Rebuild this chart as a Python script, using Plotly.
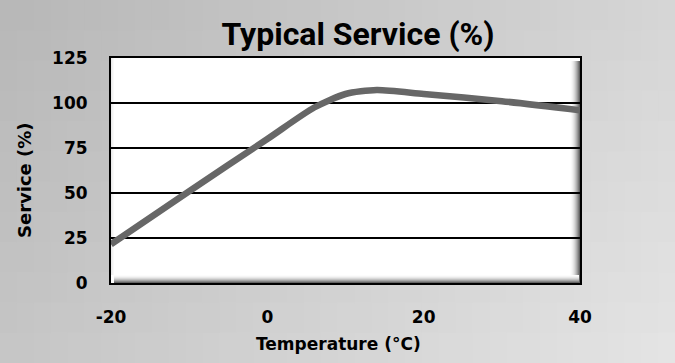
import plotly.graph_objects as go

# Data
temperature = [-20, -10, 0, 6, 10, 14, 20, 30, 40]
service = [21.5, 51, 80, 97.5, 105, 107.2, 105, 101, 96]

x_ticks = [-20, 0, 20, 40]
y_ticks = [0, 25, 50, 75, 100, 125]

W, H = 675, 363
L, R, T, B = 111, 95, 58, 80
pw, ph = W - L - R, H - T - B

fig = go.Figure()
fig.add_trace(go.Scatter(
    x=temperature, y=service, mode="lines",
    line=dict(color="#676767", width=6.5, shape="spline", smoothing=0.7),
    hoverinfo="skip", showlegend=False,
))

shapes = []
# background gradient (paper coords, grid of cells)
nx, ny = 40, 12
for i in range(nx):
    for j in range(ny):
        x0 = (-L + i * W / nx) / pw
        x1 = (-L + (i + 1) * W / nx) / pw + 0.002
        y1 = (ph + T - j * H / ny) / ph
        y0 = (ph + T - (j + 1) * H / ny) / ph - 0.004
        tx = i / (nx - 1)
        ty = j / (ny - 1)
        g = int(184 + tx * 30 + ty * 14)
        shapes.append(dict(type="rect", xref="paper", yref="paper",
                           x0=x0, x1=x1, y0=y0, y1=y1,
                           fillcolor=f"rgb({g},{g},{g})", line=dict(width=0),
                           layer="below"))
# white plot area
shapes.append(dict(type="rect", xref="x domain", yref="y domain",
                   x0=0, x1=1, y0=0, y1=1, fillcolor="white",
                   line=dict(width=0), layer="below"))
# left subtle bevel
for i in range(3):
    g = 235 + i * 7
    shapes.append(dict(type="rect", xref="x domain", yref="y domain",
                       x0=(i) / pw, x1=(i + 1) / pw, y0=8 / ph, y1=1,
                       fillcolor=f"rgb({g},{g},{g})", line=dict(width=0),
                       layer="below"))
# right inner shadow
rs = 10
for i in range(rs):
    t = (i + 1) / rs
    g = int(255 - t * t * 160)
    shapes.append(dict(type="rect", xref="x domain", yref="y domain",
                       x0=1 - (rs - i) / pw, x1=1 - (rs - i - 1) / pw,
                       y0=0, y1=1 - 3 / ph, fillcolor=f"rgb({g},{g},{g})",
                       line=dict(width=0), layer="below"))
# bottom inner shadow
bs = 8
for i in range(bs):
    t = (i + 1) / bs
    g = int(255 - t * t * 155)
    shapes.append(dict(type="rect", xref="x domain", yref="y domain",
                       x0=3 / pw, x1=1 - 1 / pw,
                       y0=(bs - i - 1) / ph, y1=(bs - i) / ph,
                       fillcolor=f"rgb({g},{g},{g})",
                       line=dict(width=0), layer="below"))

title_font = "Roboto, 'DejaVu Sans', sans-serif"
font_family = "'DejaVu Sans', Verdana, sans-serif"

fig.update_layout(
    width=W, height=H,
    margin=dict(l=L, r=R, t=T, b=B, pad=0),
    paper_bgcolor="#cccccc",
    plot_bgcolor="rgba(0,0,0,0)",
    shapes=shapes,
    showlegend=False,
    title=dict(text="<b>Typical Service (%)</b>", x=358 / W, xanchor="center",
               y=1 - 34 / H, yanchor="middle",
               font=dict(family=title_font, size=32, color="black")),
    xaxis=dict(range=[-20, 40], tickvals=x_ticks,
               ticktext=[f"<b>{v}</b>" for v in x_ticks],
               showgrid=False, zeroline=False,
               showline=True, linecolor="black", linewidth=2, mirror=True,
               ticks="outside", ticklen=18, tickcolor="rgba(0,0,0,0)",
               tickfont=dict(family=font_family, size=17, color="black")),
    yaxis=dict(range=[0, 125], tickvals=y_ticks,
               ticktext=[f"<b>{v}</b>" for v in y_ticks],
               showgrid=True, gridcolor="black", gridwidth=1.5, zeroline=False,
               showline=True, linecolor="black", linewidth=2, mirror=True,
               ticks="outside", ticklen=18, tickcolor="rgba(0,0,0,0)",
               tickfont=dict(family=font_family, size=17, color="black")),
    annotations=[
        dict(text="<b>Temperature (°C)</b>", xref="paper", yref="paper",
             x=(338 - L) / pw, y=-(344 - T - ph) / ph, xanchor="center",
             yanchor="middle", showarrow=False,
             font=dict(family=font_family, size=17, color="black")),
        dict(text="<b>Service (%)</b>", xref="paper", yref="paper",
             x=(24 - L) / pw, y=(T + ph - 180) / ph, xanchor="center",
             yanchor="middle", textangle=-90, showarrow=False,
             font=dict(family=font_family, size=18, color="black")),
    ],
)

fig.write_html("out.html", config={"displayModeBar": False},
               post_script="document.body.style.margin='0';")
